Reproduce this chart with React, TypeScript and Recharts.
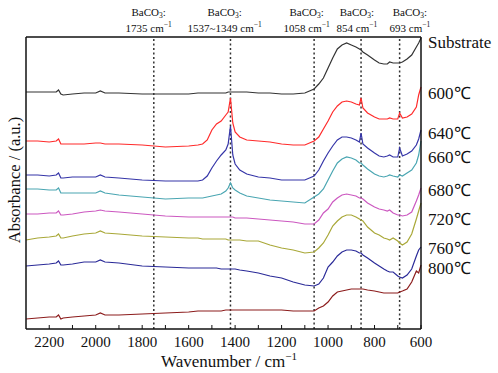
import { LineChart, Line, XAxis, YAxis, ReferenceLine } from 'recharts'

// FTIR spectra, stacked, wavenumber axis reversed

const wavenumbers = [
  2300, 2250, 2200, 2170, 2160, 2150, 2140, 2100, 2050, 2000, 1980, 1960, 1900, 1800, 1700, 1600,
  1560, 1540, 1520, 1500, 1480, 1460, 1440, 1430, 1420, 1410, 1400, 1380, 1350, 1300, 1250, 1200,
  1150, 1100, 1060, 1040, 1020, 1000, 980, 960, 940, 920, 900, 880, 865, 858, 850, 830, 800, 780,
  760, 745, 735, 720, 700, 692, 680, 660, 640, 620, 610, 600,
]

const substrate = [
  2.37, 2.37, 2.37, 2.37, 2.39, 2.35, 2.34, 2.35, 2.36, 2.36, 2.38, 2.36, 2.36, 2.35, 2.35, 2.35,
  2.36, 2.36, 2.36, 2.36, 2.36, 2.36, 2.36, 2.37, 2.37, 2.37, 2.37, 2.37, 2.37, 2.36, 2.36, 2.35,
  2.35, 2.36, 2.40, 2.45, 2.51, 2.61, 2.71, 2.80, 2.84, 2.86, 2.84, 2.82, 2.80, 2.79, 2.77, 2.74,
  2.69, 2.66, 2.65, 2.65, 2.67, 2.66, 2.66, 2.66, 2.67, 2.70, 2.74, 2.82, 2.86, 2.91,
]
const t600 = [
  1.88, 1.88, 1.87, 1.88, 1.90, 1.85, 1.85, 1.85, 1.85, 1.86, 1.86, 1.85, 1.85, 1.84, 1.82, 1.83,
  1.84, 1.85, 1.89, 1.99, 2.05, 2.08, 2.14, 2.17, 2.31, 2.06, 1.97, 1.92, 1.89, 1.88, 1.87, 1.85,
  1.84, 1.84, 1.88, 1.92, 2.00, 2.08, 2.17, 2.23, 2.27, 2.28, 2.27, 2.25, 2.24, 2.31, 2.21, 2.16,
  2.12, 2.10, 2.10, 2.10, 2.11, 2.10, 2.10, 2.16, 2.11, 2.12, 2.15, 2.22, 2.34, 2.42,
]
const t640 = [
  1.54, 1.54, 1.53, 1.54, 1.56, 1.51, 1.51, 1.52, 1.52, 1.52, 1.54, 1.52, 1.51, 1.49, 1.48, 1.48,
  1.48, 1.49, 1.53, 1.61, 1.68, 1.74, 1.79, 1.85, 2.03, 1.74, 1.65, 1.59, 1.55, 1.52, 1.51, 1.49,
  1.49, 1.49, 1.53, 1.59, 1.68, 1.76, 1.83, 1.89, 1.92, 1.92, 1.91, 1.89, 1.87, 1.96, 1.85, 1.81,
  1.76, 1.73, 1.72, 1.73, 1.74, 1.72, 1.72, 1.81, 1.73, 1.75, 1.78, 1.84, 1.90, 1.99,
]
const t660 = [
  1.40, 1.40, 1.39, 1.39, 1.41, 1.36, 1.36, 1.36, 1.36, 1.36, 1.38, 1.36, 1.34, 1.32, 1.30, 1.31,
  1.31, 1.31, 1.32, 1.33, 1.34, 1.35, 1.38, 1.41, 1.46, 1.41, 1.39, 1.36, 1.33, 1.31, 1.29, 1.28,
  1.27, 1.26, 1.32, 1.35, 1.40, 1.49, 1.58, 1.66, 1.70, 1.72, 1.71, 1.69, 1.66, 1.66, 1.64, 1.60,
  1.55, 1.53, 1.52, 1.53, 1.54, 1.53, 1.52, 1.54, 1.53, 1.56, 1.59, 1.66, 1.74, 1.88,
]
const t680 = [
  1.15, 1.15, 1.16, 1.16, 1.18, 1.14, 1.14, 1.15, 1.17, 1.18, 1.19, 1.18, 1.17, 1.15, 1.13, 1.12,
  1.12, 1.12, 1.12, 1.12, 1.12, 1.12, 1.12, 1.12, 1.12, 1.12, 1.11, 1.11, 1.11, 1.10, 1.09, 1.08,
  1.07, 1.05, 1.05, 1.09, 1.16, 1.20, 1.27, 1.31, 1.34, 1.35, 1.34, 1.33, 1.31, 1.31, 1.30, 1.26,
  1.22, 1.20, 1.19, 1.18, 1.19, 1.16, 1.14, 1.14, 1.13, 1.14, 1.17, 1.28, 1.34, 1.41,
]
const t720 = [
  0.89, 0.91, 0.92, 0.93, 0.95, 0.91, 0.91, 0.93, 0.95, 0.96, 0.98, 0.96, 0.95, 0.93, 0.92, 0.91,
  0.91, 0.90, 0.90, 0.90, 0.90, 0.90, 0.90, 0.89, 0.89, 0.89, 0.89, 0.89, 0.88, 0.88, 0.84, 0.81,
  0.79, 0.76, 0.77, 0.81, 0.86, 0.94, 1.03, 1.08, 1.12, 1.14, 1.14, 1.12, 1.10, 1.09, 1.08, 1.02,
  0.96, 0.94, 0.91, 0.90, 0.89, 0.91, 0.88, 0.86, 0.84, 0.87, 0.95, 1.10, 1.18, 1.26,
]
const t760 = [
  0.63, 0.64, 0.65, 0.66, 0.68, 0.64, 0.64, 0.65, 0.67, 0.67, 0.69, 0.67, 0.66, 0.63, 0.62, 0.61,
  0.61, 0.61, 0.61, 0.61, 0.61, 0.60, 0.60, 0.60, 0.60, 0.60, 0.60, 0.59, 0.58, 0.56, 0.53, 0.51,
  0.47, 0.44, 0.43, 0.45, 0.51, 0.62, 0.67, 0.73, 0.77, 0.79, 0.79, 0.78, 0.76, 0.76, 0.74, 0.71,
  0.66, 0.63, 0.60, 0.58, 0.57, 0.57, 0.53, 0.52, 0.51, 0.54, 0.60, 0.73, 0.79, 0.82,
]
const t800 = [
  0.10, 0.11, 0.12, 0.12, 0.14, 0.10, 0.11, 0.12, 0.13, 0.14, 0.16, 0.14, 0.14, 0.15, 0.16, 0.17,
  0.18, 0.18, 0.18, 0.18, 0.18, 0.18, 0.19, 0.19, 0.19, 0.19, 0.19, 0.19, 0.19, 0.19, 0.19, 0.19,
  0.18, 0.18, 0.18, 0.21, 0.23, 0.27, 0.33, 0.37, 0.38, 0.39, 0.40, 0.40, 0.40, 0.40, 0.40, 0.39,
  0.38, 0.37, 0.36, 0.36, 0.36, 0.36, 0.36, 0.37, 0.38, 0.40, 0.47, 0.58, 0.56, 0.64,
]

const seriesKeys = ['substrate', 't600', 't640', 't660', 't680', 't720', 't760', 't800']
const seriesColors = ['#333333', '#ff2b2b', '#3535a8', '#4aa6b2', '#cc58c0', '#a9a838', '#2a2a98', '#8c1c1c']

// curve labels on the right and where they sit (absorbance units)
const curveNames = ['Substrate', '600℃', '640℃', '660℃', '680℃', '720℃', '760℃', '800℃']
const curveLabelLevels = [2.87, 2.36, 1.96, 1.72, 1.39, 1.1, 0.81, 0.61]

// BaCO3 band markers
const bandLines = [1750, 1420, 1060, 858, 692]
const bandTexts = ['1735', '1537~1349', '1058', '854', '693']
const bandTextPos = [1772, 1445, 1092, 876, 648]

const xTicks = [2200, 2100, 2000, 1900, 1800, 1700, 1600, 1500, 1400, 1300, 1200, 1100, 1000, 900, 800, 700, 600]

const data = wavenumbers.map((wn, i) => ({
  wn,
  substrate: substrate[i],
  t600: t600[i],
  t640: t640[i],
  t660: t660[i],
  t680: t680[i],
  t720: t720[i],
  t760: t760[i],
  t800: t800[i],
}))

const SERIF = '"Liberation Serif", "Times New Roman", serif'

function BottomTick({ x, y, payload }: any) {
  if (payload.value % 200 !== 0) return <g />
  return (
    <text x={x} y={y} dy={14} textAnchor="middle" fontSize={15} fontFamily={SERIF} fill="#111">
      {payload.value}
    </text>
  )
}

function TopTick({ x, payload }: any) {
  const i = bandTextPos.indexOf(payload.value)
  return (
    <g fontFamily={SERIF} fontSize={11} fill="#111">
      <text x={x} y={15.5} textAnchor="middle">
        BaCO<tspan dy={2.5} fontSize={7.5}>3</tspan>
        <tspan dy={-2.5}>:</tspan>
      </text>
      <text x={x} y={31.5} textAnchor="middle">
        {bandTexts[i]} cm<tspan dy={-5} fontSize={7.5}>−1</tspan>
      </text>
    </g>
  )
}

function RightTick({ y, payload }: any) {
  const i = curveLabelLevels.indexOf(payload.value)
  return (
    <text x={428} y={y} dy={5.5} textAnchor="start" fontSize={17} fontFamily={SERIF} fill="#111">
      {curveNames[i]}
    </text>
  )
}

export default function App() {
  return (
    <div style={{ position: 'absolute', left: 0, top: 0, width: 498, height: 373, background: '#fff' }}>
      <LineChart width={498} height={373} data={data} margin={{ top: 0, right: 0, bottom: 0, left: 0 }}>
        <XAxis
          xAxisId="bottom"
          dataKey="wn"
          type="number"
          domain={[600, 2300]}
          reversed
          ticks={xTicks}
          interval={0}
          height={44}
          tickSize={-4}
          tickMargin={8}
          tick={(p: any) => <BottomTick {...p} />}
          axisLine={{ stroke: '#111', strokeWidth: 1.5 }}
          tickLine={{ stroke: '#111' }}
        />
        <XAxis
          xAxisId="top"
          orientation="top"
          dataKey="wn"
          type="number"
          domain={[600, 2300]}
          reversed
          ticks={bandTextPos}
          interval={0}
          height={37}
          tickLine={false}
          tick={(p: any) => <TopTick {...p} />}
          axisLine={{ stroke: '#111', strokeWidth: 1.5 }}
        />
        <YAxis
          yAxisId="left"
          type="number"
          domain={[0, 2.92]}
          width={26}
          tick={false}
          tickLine={false}
          axisLine={{ stroke: '#111', strokeWidth: 1.5 }}
        />
        <YAxis
          yAxisId="right"
          orientation="right"
          type="number"
          domain={[0, 2.92]}
          width={77}
          ticks={curveLabelLevels}
          interval={0}
          tickLine={false}
          tick={(p: any) => <RightTick {...p} />}
          axisLine={{ stroke: '#111', strokeWidth: 1.5 }}
        />
        {bandLines.map((b) => (
          <ReferenceLine
            key={b}
            x={b}
            xAxisId="bottom"
            yAxisId="left"
            stroke="#333"
            strokeWidth={1.5}
            strokeDasharray="2 2.5"
          />
        ))}
        {seriesKeys.map((k, i) => (
          <Line
            key={k}
            xAxisId="bottom"
            yAxisId={i === seriesKeys.length - 1 ? 'right' : 'left'}
            type="linear"
            dataKey={k}
            stroke={seriesColors[i]}
            strokeWidth={1.2}
            dot={false}
            isAnimationActive={false}
          />
        ))}
      </LineChart>
      <svg width={498} height={373} style={{ position: 'absolute', left: 0, top: 0, pointerEvents: 'none' }}>
        <text x={229} y={367} textAnchor="middle" fontSize={17} fontFamily={SERIF} fill="#111">
          Wavenumber / cm<tspan dy={-7} fontSize={11}>−1</tspan>
        </text>
        <text
          x={20}
          y={180}
          transform="rotate(-90 20 180)"
          textAnchor="middle"
          fontSize={16.5}
          fontFamily={SERIF}
          fill="#111"
        >
          Absorbance / (a.u.)
        </text>
      </svg>
    </div>
  )
}
